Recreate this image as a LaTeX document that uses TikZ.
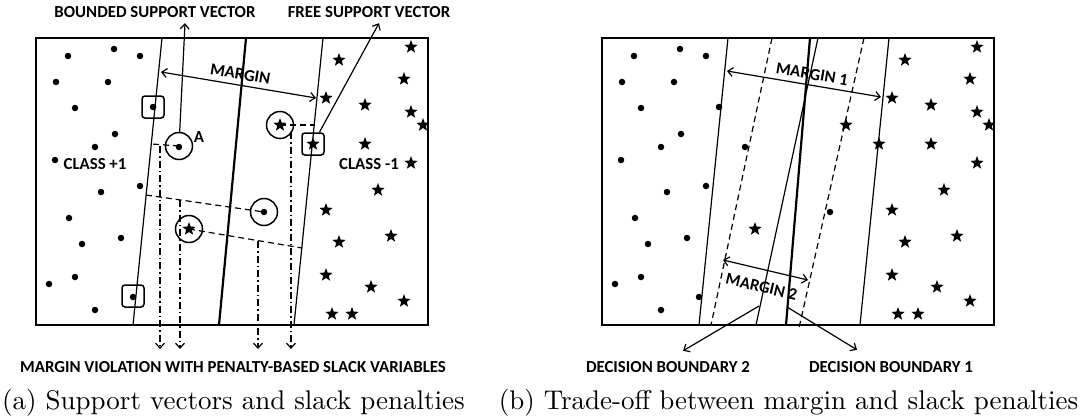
\documentclass[tikz,border=0pt]{standalone}
\usepackage{fontspec}
\newfontfamily\calfont{Carlito}
\newfontfamily\capfont{lmroman10-regular.otf}
\usetikzlibrary{shapes.geometric,arrows.meta}
\tikzset{
  lab/.style={font=\calfont\bfseries\fontsize{16.8}{18}\selectfont, inner sep=1pt},
  capt/.style={font=\capfont\fontsize{27}{30}\selectfont, inner sep=0pt, anchor=base},
  dotpt/.style={circle, fill, inner sep=0pt, minimum size=6.5pt},
  starpt/.style={star, star points=5, star point ratio=2.4, fill, inner sep=0pt, minimum size=14pt},
  svcirc/.style={circle, draw, line width=1.5pt, minimum size=27pt, inner sep=0pt},
  svbox/.style={draw, rounded corners=3pt, line width=1.5pt, minimum size=22pt, inner sep=0pt},
  gap/.style={dash pattern=on 6pt off 4pt, line width=1.2pt},
  slack/.style={dash pattern=on 7pt off 3pt on 1.5pt off 3pt, line width=1.2pt},
  frame/.style={line width=1.8pt},
  bound/.style={line width=2.2pt},
}
\begin{document}
\begin{tikzpicture}[x=1pt, y=-1pt, line width=1.2pt, >={Straight Barb[length=5pt,width=9pt]}]
  \useasboundingbox (0,0) rectangle (1092,418);
  \foreach \dx in {0,566}{
    \begin{scope}[shift={(\dx,0)}]
      \foreach \x/\y [count=\i] in {68/56, 114/49, 140/56, 56/82, 108/82, 75/108, 153/107, 115/134, 95/147,
        179/147, 55/160, 140/186, 101/192, 69/218, 264/212, 82/244, 121/238, 49/284, 75/277, 133/297, 95/310}
        \node[dotpt] (dot\dx-\i) at (\x,\y) {};
      \foreach \x/\y [count=\i] in {339/60, 411/47, 404/79, 326/98, 365/105, 411/112, 423/125, 280/125, 313/144,
        365/144, 411/163, 378/190, 326/210, 391/236, 339/242, 189/229, 326/275, 371/287, 404/301, 332/314, 352/314}
        \node[starpt] (star\dx-\i) at (\x,\y) {};
    \end{scope}
  }
  % (a) support vectors and slack
  \draw[frame] (36,38) rectangle (428,325);
  \draw (162,38) -- (133,325);
  \draw[bound] (246,38) -- (219,325);
  \draw (323,38) -- (294,325);
  \node[svbox] (bsvTop) at (153,107) {};
  \node[svbox] (bsvLow) at (133,296) {};
  \node[svbox] (fsv) at (313,144) {};
  \node[svcirc] (cA) at (179,146) {};
  \node[svcirc] (cS1) at (280,125) {};
  \node[svcirc] (cD) at (264,212) {};
  \node[svcirc] (cS2) at (189,229) {};
  \node[lab] (lbA) at (199,137) {A};
  \node[lab] (lbC1) at (95,164) {CLASS +1};
  \node[lab] (lbC2) at (369,164) {CLASS -1};
  \node[lab] (lbBsv) at (155,12) {BOUNDED SUPPORT VECTOR};
  \node[lab] (lbFsv) at (369,12) {FREE SUPPORT VECTOR};
  \node[lab] (lbViol) at (233,367) {MARGIN VIOLATION WITH PENALTY-BASED SLACK VARIABLES};
  \coordinate (mL) at (161,72); \coordinate (mR) at (316,98);
  \draw[<->] (mL) -- node[lab, sloped, above=4pt] (lbM) {MARGIN} (mR);
  \coordinate (pA) at (152,144); \coordinate (pS1) at (314,125);
  \coordinate (pD) at (146,195); \coordinate (pS2) at (302,248);
  \draw[gap] (cA.center) -- (pA);
  \draw[gap] (cS1.center) -- (pS1);
  \draw[gap] (pD) -- (cD.center);
  \draw[gap] (cS2.center) -- (pS2);
  \coordinate (vb) at (0,349);
  \foreach \x/\y in {160/146, 180/200, 258/241, 291/132}
    \draw[slack, ->] (\x,\y) -- (\x,\y |- vb);
  \draw[->] (cA) -- ([xshift=30pt, yshift=-4pt]lbBsv.south);
  \draw[->] (fsv) -- ([xshift=10pt, yshift=-4pt]lbFsv.south);
  % (b) trade-off
  \draw[frame] (602,38) rectangle (994,325);
  \draw (728,38) -- (699,325);
  \draw[gap] (772,38) -- (711,325);
  \draw[bound] (810,38) -- (786,325);
  \draw (818,38) -- (756,325);
  \draw[gap] (864,38) -- (799,328);
  \draw (889,38) -- (860,325);
  \coordinate (m1L) at (727,71); \coordinate (m1R) at (881,97);
  \draw[<->] (m1L) -- node[lab, sloped, above=4pt, pos=0.54] (lbM1) {MARGIN 1} (m1R);
  \coordinate (m2L) at (723,260); \coordinate (m2R) at (808,280);
  \draw[<->] (m2L) -- node[lab, sloped, below=10pt] (lbM2) {MARGIN 2} (m2R);
  \node[lab] (lbDB2) at (668,367) {DECISION BOUNDARY 2};
  \node[lab] (lbDB1) at (891,367) {DECISION BOUNDARY 1};
  \coordinate (db2p) at (759,306); \coordinate (db1p) at (787,307);
  \draw[->] (db2p) -- ([xshift=15pt, yshift=9pt]lbDB2.north);
  \draw[->] (db1p) -- ([xshift=-34pt, yshift=10pt]lbDB1.north);
  \node[capt] (capA) at (233.5,409) {(a) Support vectors and slack penalties};
  \node[capt] (capB) at (788.5,409) {(b) Trade-off between margin and slack penalties};
\end{tikzpicture}
\end{document}
